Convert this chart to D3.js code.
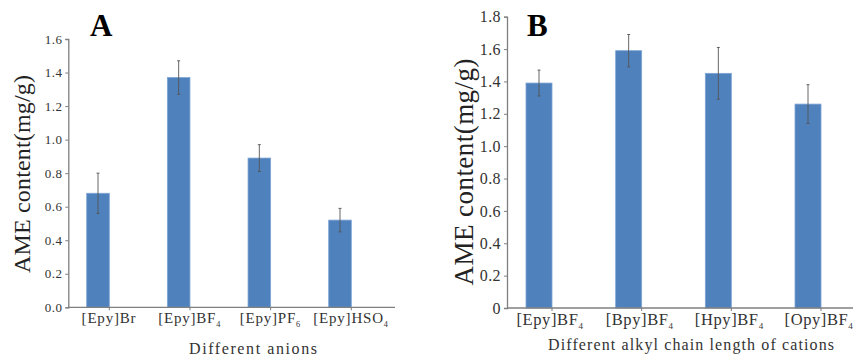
<!DOCTYPE html>
<html><head><meta charset="utf-8">
<script src="https://cdn.jsdelivr.net/npm/d3@7"></script>
<style>
html,body{margin:0;padding:0;background:#fff;}
svg{display:block;}
svg text{font-family:"Liberation Serif","Times New Roman",serif !important;}
</style></head>
<body>
<svg id="chart" width="857" height="356"></svg>
<script>
// ---- Data ----
const catsA = [["[Epy]Br",""],["[Epy]BF","4"],["[Epy]PF","6"],["[Epy]HSO","4"]];
const valuesA = [0.68, 1.37, 0.89, 0.52];
const errorsA = [0.12, 0.10, 0.08, 0.07];
const ticksA = [0,0.2,0.4,0.6,0.8,1.0,1.2,1.4,1.6];

const catsB = [["[Epy]BF","4"],["[Bpy]BF","4"],["[Hpy]BF","4"],["[Opy]BF","4"]];
const valuesB = [1.39, 1.59, 1.45, 1.26];
const errorsB = [0.08, 0.10, 0.16, 0.12];
const ticksB = [0,0.2,0.4,0.6,0.8,1.0,1.2,1.4,1.6,1.8];

const svg = d3.select("#chart");
const barColor = "#4F81BD";

function panel(cfg){
  const g = svg.append("g");
  const names = cfg.cats.map(c=>c[0]+c[1]);
  const x = d3.scalePoint().domain(names).range(cfg.xr).padding(0);
  const y = d3.scaleLinear().domain(cfg.yd).range(cfg.yr);

  // y axis
  const ya = d3.axisLeft(y).tickValues(cfg.ticks).tickSize(3).tickPadding(3)
    .tickFormat(cfg.fmt);
  const yg = g.append("g").attr("transform",`translate(${cfg.ax0},0)`).call(ya);
  yg.attr("font-family",null);
  yg.select(".domain").attr("stroke","#7f7f7f").attr("stroke-width",1.3);
  yg.selectAll(".tick line").attr("stroke","#7f7f7f");
  yg.selectAll(".tick text").attr("font-size",cfg.tickFs).attr("fill","#333")
    .attr("letter-spacing","0.4px");

  // bars
  g.selectAll("rect.bar").data(cfg.vals).join("rect")
    .attr("class","bar")
    .attr("x",(d,i)=>x(names[i])-cfg.bw/2)
    .attr("width",cfg.bw)
    .attr("y",d=>y(d))
    .attr("height",d=>y(0)-y(d))
    .attr("fill",barColor)
    .attr("stroke","#7ea4d4").attr("stroke-width",0.8);

  // error bars
  const eg = g.append("g").attr("stroke","#555").attr("stroke-width",0.9);
  cfg.vals.forEach((v,i)=>{
    const cx = x(names[i]);
    const e = cfg.errs[i];
    eg.append("line").attr("x1",cx).attr("x2",cx).attr("y1",y(v+e)).attr("y2",y(v-e));
    eg.append("line").attr("x1",cx-1.5).attr("x2",cx+1.5).attr("y1",y(v+e)).attr("y2",y(v+e));
    eg.append("line").attr("x1",cx-1.5).attr("x2",cx+1.5).attr("y1",y(v-e)).attr("y2",y(v-e));
  });

  // x axis line
  g.append("line").attr("x1",cfg.ax0).attr("x2",cfg.ax1)
    .attr("y1",y(0)).attr("y2",y(0)).attr("stroke","#7f7f7f").attr("stroke-width",1.3);
  // x ticks at bar right edges
  names.forEach(n=>{
    g.append("line").attr("x1",x(n)+cfg.bw/2).attr("x2",x(n)+cfg.bw/2)
      .attr("y1",y(0)).attr("y2",y(0)+3).attr("stroke","#7f7f7f");
  });

  // x tick labels
  cfg.cats.forEach((c,i)=>{
    const t = g.append("text").attr("x",x(names[i])+cfg.lblDx).attr("y",cfg.lblY)
      .attr("text-anchor","middle").attr("font-size",cfg.lblFs).attr("letter-spacing",cfg.lblLs)
      .attr("fill","#333");
    t.append("tspan").text(c[0]);
    if(c[1]) t.append("tspan").attr("dy",4).attr("font-size",cfg.lblFs*0.55).text(c[1]);
  });

  // x title
  g.append("text").attr("x",cfg.xtX).attr("y",cfg.xtY).attr("text-anchor","middle")
    .attr("font-size",cfg.xtFs).attr("textLength",cfg.xtLen).attr("lengthAdjust","spacing")
    .attr("fill","#333").text(cfg.xTitle);

  // y title
  g.append("text").attr("transform",`translate(${cfg.ytX},${cfg.ytY}) rotate(-90)`)
    .attr("text-anchor","middle").attr("font-size",cfg.ytFs)
    .attr("textLength",cfg.ytLen).attr("lengthAdjust","spacing")
    .attr("fill","#222").text("AME content(mg/g)");

  // panel letter
  g.append("text").attr("x",cfg.letX).attr("y",36).attr("font-size",31)
    .attr("font-weight","bold").attr("fill","#000").text(cfg.letter);
}

panel({
  cats:catsA, vals:valuesA, errs:errorsA, ticks:ticksA,
  xr:[98,340], bw:22.6, yd:[0,1.6], yr:[307.3,39], ax0:68.3, ax1:395,
  fmt:d=>d.toFixed(1), tickFs:13,
  lblY:323, lblFs:15, lblLs:"0.8px", lblDx:11,
  xTitle:"Different anions", xtX:253, xtY:354, xtFs:16, xtLen:128,
  ytX:30, ytY:174, ytFs:24, ytLen:198,
  letter:"A", letX:90
});
panel({
  cats:catsB, vals:valuesB, errs:errorsB, ticks:ticksB,
  xr:[539,808], bw:26, yd:[0,1.8], yr:[308,16.7], ax0:507, ax1:853,
  fmt:d=>d===0?"0":d.toFixed(1), tickFs:16,
  lblY:325, lblFs:16.5, lblLs:"0.6px", lblDx:11,
  xTitle:"Different alkyl chain length of cations", xtX:691, xtY:350, xtFs:16, xtLen:286,
  ytX:473, ytY:172, ytFs:27, ytLen:227,
  letter:"B", letX:527
});
</script>
</body></html>
